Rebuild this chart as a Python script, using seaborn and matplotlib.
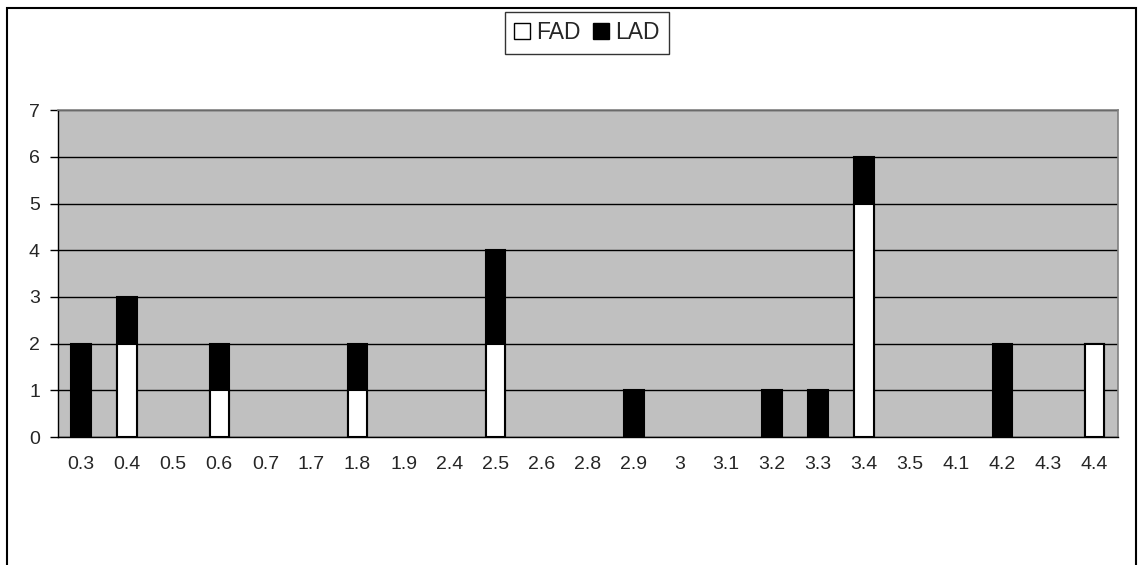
import matplotlib
matplotlib.use("Agg")
import matplotlib.pyplot as plt
import seaborn as sns
import pandas as pd
import numpy as np
from matplotlib.patches import Rectangle
from matplotlib.lines import Line2D

categories = ["0.3", "0.4", "0.5", "0.6", "0.7", "1.7", "1.8", "1.9", "2.4", "2.5", "2.6",
              "2.8", "2.9", "3", "3.1", "3.2", "3.3", "3.4", "3.5", "4.1", "4.2", "4.3", "4.4"]
fad = [0, 2, 0, 1, 0, 0, 1, 0, 0, 2, 0, 0, 0, 0, 0, 0, 0, 5, 0, 0, 0, 0, 2]
lad = [2, 1, 0, 1, 0, 0, 1, 0, 0, 2, 0, 0, 1, 0, 0, 1, 1, 1, 0, 0, 2, 0, 0]
y_ticks = [0, 1, 2, 3, 4, 5, 6, 7]

df = pd.DataFrame({"cat": categories, "FAD": fad, "LAD": lad})
df["total"] = df["FAD"] + df["LAD"]

sns.set_style("white")
plt.rcParams["font.family"] = ["Liberation Sans", "DejaVu Sans"]

fig = plt.figure(figsize=(11.38, 5.65), dpi=100)
ax = fig.add_axes([0.051, 0.2265, 0.931, 0.5785])
ax.set_facecolor("#c0c0c0")

sns.barplot(data=df, x="cat", y="total", color="black", width=0.42,
            edgecolor="black", linewidth=1.5, ax=ax, order=categories, saturation=1)
sns.barplot(data=df, x="cat", y="FAD", color="white", width=0.42,
            edgecolor="black", linewidth=1.5, ax=ax, order=categories, saturation=1)
for p in ax.patches:
    if p.get_height() == 0:
        p.set_visible(False)

ax.set_ylim(0, 7)
ax.set_xlim(-0.5, len(categories) - 0.5)
ax.set_yticks(y_ticks)
ax.yaxis.grid(True, color="black", linewidth=1)
ax.set_axisbelow(True)
ax.set_xlabel("")
ax.set_ylabel("")

ax.set_xticks(np.arange(len(categories)))
ax.set_xticklabels(categories)
ax.set_xticks(np.arange(len(categories) + 1) - 0.5, minor=True)
ax.tick_params(axis="x", which="major", length=0, pad=14, labelsize=14)
ax.tick_params(axis="x", which="minor", length=6, width=1, color="black", direction="out")
ax.tick_params(axis="y", length=6, width=1, color="black", direction="out", labelsize=14, pad=7)
ax.tick_params(axis="both", bottom=True, left=True)

for s in ["left", "bottom"]:
    ax.spines[s].set_color("black")
    ax.spines[s].set_linewidth(1)
for s in ["top", "right"]:
    ax.spines[s].set_color("#808080")
    ax.spines[s].set_linewidth(1.2)

handles = [
    Line2D([0], [0], marker="s", linestyle="none", markerfacecolor="white",
           markeredgecolor="black", markersize=11, markeredgewidth=1),
    Line2D([0], [0], marker="s", linestyle="none", markerfacecolor="black",
           markeredgecolor="black", markersize=11, markeredgewidth=1),
]
leg = fig.legend(handles, ["FAD", "LAD"], loc="center", bbox_to_anchor=(0.516, 0.942),
                 ncol=2, frameon=True, fancybox=False, fontsize=16.5,
                 handlelength=0.65, handletextpad=0.3, columnspacing=0.55,
                 borderpad=0.42, edgecolor="black")
leg.get_frame().set_linewidth(1)

fig.patches.append(Rectangle((7 / 1138, -0.05), (1136 - 7) / 1138, (565 - 8) / 565 + 0.05,
                             transform=fig.transFigure, fill=False, edgecolor="black",
                             linewidth=1.5))

fig.savefig("out.png", dpi=100, facecolor="white")
